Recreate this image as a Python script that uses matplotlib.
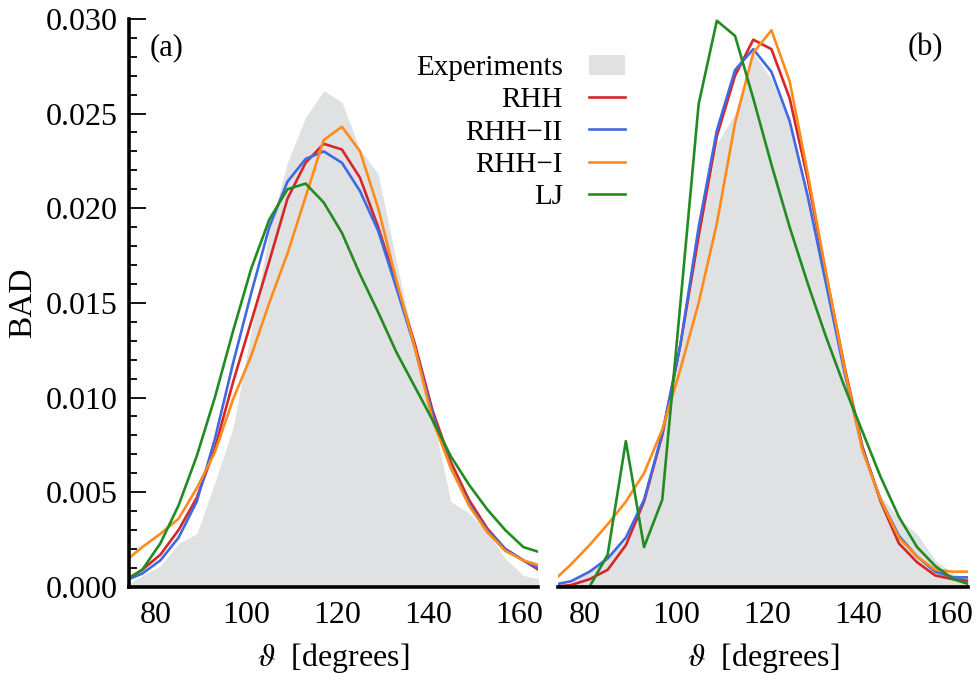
# Распределение валентных углов (BAD): эксперимент и модели

import numpy as np
import matplotlib.pyplot as plt
from matplotlib.ticker import MultipleLocator

plt.rcParams['font.family'] = ['Liberation Serif', 'DejaVu Serif']
plt.rcParams['mathtext.fontset'] = 'stix'

# углы (центры интервалов), градусы
theta = [73, 77, 81, 85, 89, 93, 97, 101, 105, 109, 113, 117,
         121, 125, 129, 133, 137, 141, 145, 149, 153, 157, 161, 165]

# панель (a)
exp_a = [0.0000, 0.0006, 0.0011, 0.0023, 0.0028, 0.0055, 0.0084, 0.0135, 0.0188, 0.0224, 0.0248, 0.0262,
         0.0256, 0.0231, 0.0218, 0.0172, 0.0128, 0.0090, 0.0045, 0.0039, 0.0029, 0.0015, 0.0006, 0.0004]
rhh_a = [0.0003, 0.0009, 0.0017, 0.0030, 0.0047, 0.0073, 0.0108, 0.0140, 0.0172, 0.0205, 0.0224, 0.0234,
         0.0231, 0.0216, 0.0190, 0.0160, 0.0129, 0.0093, 0.0066, 0.0046, 0.0031, 0.0020, 0.0014, 0.0008]
rhh2_a = [0.0003, 0.0007, 0.0014, 0.0026, 0.0045, 0.0078, 0.0118, 0.0155, 0.0190, 0.0214, 0.0226, 0.0230,
          0.0224, 0.0209, 0.0188, 0.0158, 0.0127, 0.0091, 0.0063, 0.0044, 0.0030, 0.0020, 0.0014, 0.0009]
rhh1_a = [0.0013, 0.0021, 0.0028, 0.0036, 0.0052, 0.0071, 0.0099, 0.0122, 0.0150, 0.0176, 0.0206, 0.0236,
          0.0243, 0.0230, 0.0200, 0.0162, 0.0127, 0.0088, 0.0063, 0.0043, 0.0029, 0.0019, 0.0014, 0.0011]
lj_a = [0.0003, 0.0009, 0.0023, 0.0043, 0.0069, 0.0100, 0.0135, 0.0168, 0.0194, 0.0210, 0.0213, 0.0203,
        0.0187, 0.0165, 0.0145, 0.0124, 0.0106, 0.0088, 0.0069, 0.0054, 0.0041, 0.0030, 0.0021, 0.0018]

# панель (b)
exp_b = [0.0000, 0.0002, 0.0008, 0.0017, 0.0024, 0.0044, 0.0078, 0.0125, 0.0182, 0.0234, 0.0250, 0.0282,
         0.0268, 0.0245, 0.0205, 0.0158, 0.0112, 0.0072, 0.0048, 0.0036, 0.0028, 0.0014, 0.0007, 0.0004]
rhh_b = [0.0000, 0.0001, 0.0004, 0.0009, 0.0022, 0.0045, 0.0080, 0.0128, 0.0185, 0.0238, 0.0270, 0.0289,
         0.0284, 0.0258, 0.0215, 0.0165, 0.0117, 0.0074, 0.0045, 0.0023, 0.0013, 0.0006, 0.0004, 0.0003]
rhh2_b = [0.0001, 0.0003, 0.0008, 0.0015, 0.0026, 0.0046, 0.0081, 0.0128, 0.0190, 0.0241, 0.0273, 0.0284,
          0.0272, 0.0246, 0.0206, 0.0160, 0.0114, 0.0073, 0.0046, 0.0027, 0.0016, 0.0008, 0.0005, 0.0005]
rhh1_b = [0.0003, 0.0012, 0.0022, 0.0033, 0.0045, 0.0060, 0.0083, 0.0115, 0.0150, 0.0192, 0.0245, 0.0282,
          0.0294, 0.0267, 0.0218, 0.0166, 0.0116, 0.0072, 0.0046, 0.0026, 0.0016, 0.0009, 0.0008, 0.0008]
lj_b = [0.0000, 0.0000, 0.0000, 0.0017, 0.0077, 0.0021, 0.0046, 0.0150, 0.0255, 0.0299, 0.0291, 0.0258,
        0.0223, 0.0190, 0.0160, 0.0132, 0.0106, 0.0082, 0.0058, 0.0037, 0.0021, 0.0011, 0.0004, 0.0001]

labels = ["RHH", "RHH\u2212II", "RHH\u2212I", "LJ"]
colors = ["#d62728", "#4169e1", "#ff8c1a", "#228b22"]
fill_color = "#e0e1e3"

fig = plt.figure(figsize=(9.78, 6.73), dpi=100)
ax_a = fig.add_axes([0.132, 0.128, 0.418, 0.844])
ax_b = fig.add_axes([0.5706, 0.128, 0.4192, 0.844])

panels = [
    (ax_a, exp_a, [rhh_a, rhh2_a, rhh1_a, lj_a], "(a)"),
    (ax_b, exp_b, [rhh_b, rhh2_b, rhh1_b, lj_b], "(b)"),
]

for ax, exp, models, tag in panels:
    ax.fill_between(theta, exp, 0, color=fill_color, lw=0, label="Experiments")
    for y, lab, c in zip(models, labels, colors):
        ax.plot(theta, y, color=c, lw=1.9, label=lab)
    ax.set_xlim(74.1, 164.2)
    ax.set_ylim(0, 0.030)
    ax.set_xticks([80, 100, 120, 140, 160])
    ax.tick_params(axis='x', length=0, labelsize=23, pad=10)
    for s in ['top', 'right']:
        ax.spines[s].set_visible(False)
    ax.spines['bottom'].set_linewidth(2.6)
    ax.spines['bottom'].set_zorder(5)
    ax.set_xlabel(r"$\vartheta$  [degrees]", fontsize=23, labelpad=8)

# ось y только слева
ax_a.spines['left'].set_linewidth(2.6)
ax_a.yaxis.set_major_locator(MultipleLocator(0.005))
ax_a.yaxis.set_minor_locator(MultipleLocator(0.001))
ax_a.yaxis.set_major_formatter(lambda v, p: "%.3f" % v)
ax_a.tick_params(axis='y', which='major', direction='in', length=12, width=1.3, labelsize=23, pad=8)
ax_a.tick_params(axis='y', which='minor', direction='in', length=6, width=1.3)
ax_a.set_ylabel("BAD", fontsize=24, labelpad=6)

ax_b.spines['left'].set_visible(False)
ax_b.set_yticks([])

ax_a.text(0.05, 0.975, "(a)", transform=ax_a.transAxes, fontsize=22, va='top', ha='left')
ax_b.text(0.94, 0.975, "(b)", transform=ax_b.transAxes, fontsize=22, va='top', ha='right')

h, l = ax_a.get_legend_handles_labels()
fig.legend(h, l, loc='upper right', bbox_to_anchor=(640 / 978, 1 - 40 / 673),
           frameon=False, markerfirst=False, fontsize=21, handlelength=1.25,
           handletextpad=0.9, labelspacing=0.2, borderpad=0)

fig.savefig("out.png", dpi=100)
